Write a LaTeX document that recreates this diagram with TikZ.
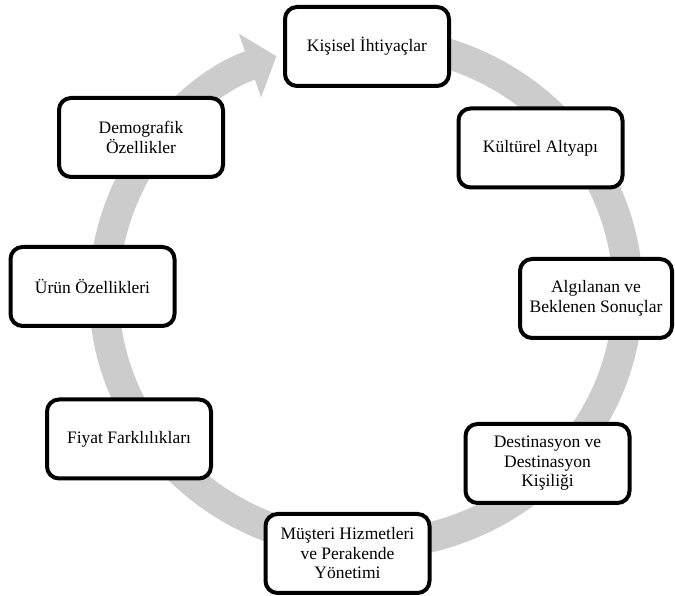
\documentclass[tikz,border=0pt]{standalone}
\usepackage{fontspec}
\setmainfont{Liberation Serif}
\usetikzlibrary{arrows.meta}
\definecolor{ringgray}{RGB}{204,204,204}
\begin{document}
\begin{tikzpicture}[x=1pt,y=1pt,
  box/.style={draw=black, line width=4pt, rounded corners=12pt, fill=white,
    minimum width=164pt, minimum height=79pt, align=center, inner sep=2pt,
    font=\fontsize{17.5}{19.5}\selectfont, text=black},
  ring/.style={draw=ringgray, line width=30pt, -{Triangle[width=66pt,length=28pt]}}]
\useasboundingbox (0,0) rectangle (675,596);
\coordinate (tail) at (433.8,546.4);
\draw[ring] (tail) arc[start angle=75, end angle=-250, x radius=262, y radius=252];
\node[box] (kisisel) at (367,549.5) {Kişisel İhtiyaçlar};
\node[box] (kultur) at (540.5,448) {Kültürel Altyapı};
\node[box, minimum width=152pt] (algi) at (596,297.5) {Algılanan ve\\Beklenen Sonuçlar};
\node[box] (dest) at (547.5,132.5) {Destinasyon ve\\Destinasyon\\Kişiliği};
\node[box] (musteri) at (347.5,42.5) {Müşteri Hizmetleri\\ve Perakende\\Yönetimi};
\node[box] (fiyat) at (129,157) {Fiyat Farklılıkları};
\node[box] (urun) at (92.5,309.5) {Ürün Özellikleri};
\node[box] (demo) at (141,458.5) {Demografik\\Özellikler};
\end{tikzpicture}
\end{document}
